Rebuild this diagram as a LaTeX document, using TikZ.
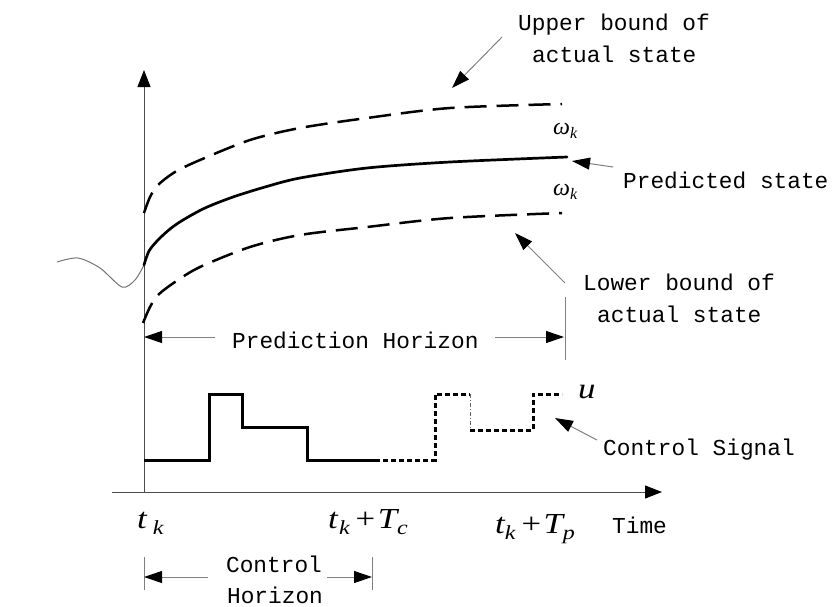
\documentclass[tikz,border=0pt]{standalone}
\usepackage{fix-cm}
\usepackage{graphicx}
\usepackage{fontspec}
\newfontfamily\monofont{Liberation Mono}
\newfontfamily\tnr{Liberation Serif}
\usetikzlibrary{arrows.meta}
\newcommand\sbs[1]{\raisebox{-6.5pt}{\fontsize{20}{22}\selectfont #1}}
\newcommand\wid[1]{\scalebox{1.2}[1]{#1}}
\tikzset{
  axisline/.style={draw=black!70, line width=1pt, -{Triangle[length=17pt,width=13pt,color=black]}},
  predcurve/.style={line width=2.7pt, line cap=round},
  boundcurve/.style={line width=2.5pt, dash pattern=on 22pt off 10pt},
  sig/.style={line width=3pt, line join=miter},
  sigdot/.style={line width=3pt, dash pattern=on 5pt off 3pt},
  pointer/.style={draw=black!50, line width=1pt, -{Triangle[length=18pt,width=12pt,color=black]}},
  tickline/.style={draw=black!50, line width=1pt},
  txt/.style={font=\monofont\fontsize{22.8}{26}\selectfont, inner sep=0pt, anchor=base west},
  mathlbl/.style={font=\tnr\itshape\fontsize{29}{32}\selectfont, inner sep=0pt, anchor=base west},
  omg/.style={font=\tnr\itshape\fontsize{24}{27}\selectfont, inner sep=0pt, anchor=base west},
}
\begin{document}
\begin{tikzpicture}[x=1pt,y=-1pt]
\useasboundingbox (0,0) rectangle (833,606);
% axes
\coordinate (o) at (144,492);
\coordinate (ytop) at (144,70);
\coordinate (xl) at (112,492);
\coordinate (xr) at (662,492);
\draw[axisline] (o) -- (ytop);
\draw[axisline] (xl) -- (xr);
% past wave
\draw[black!55, line width=1pt] plot[smooth] coordinates {(57,262) (78,258) (100,268) (122,287) (135,280) (144,265)};
% predicted state
\draw[predcurve] plot[smooth] coordinates {(144,265) (149,251) (158,240) (170,229) (183,220) (205,208) (233,197) (265,187) (300,178) (367,168) (450,162) (567,157)};
% upper bound
\draw[boundcurve] plot[smooth] coordinates {(144,213) (150,197) (158,185) (175,172) (200,160) (250,140) (300,128) (367,118) (450,108) (562,104)};
% lower bound
\draw[boundcurve] plot[smooth] coordinates {(143,323) (150,307) (158,295) (175,282) (200,267) (250,247) (300,235) (367,227) (450,218) (562,213)};
% omega labels
\node[omg] (w1) at (553,134) {ω\raisebox{-4pt}{\fontsize{16}{18}\selectfont k}};
\node[omg] (w2) at (553,195) {ω\raisebox{-4pt}{\fontsize{16}{18}\selectfont k}};
% texts
\node[txt] (up1) at (518,30) {Upper bound of};
\node[txt] (up2) at (532,62) {actual state};
\node[txt] (pred) at (623,188) {Predicted state};
\node[txt] (lo1) at (583,290) {Lower bound of};
\node[txt] (lo2) at (597,322) {actual state};
\node[txt] (ph) at (232,348) {Prediction Horizon};
\node[txt] (cs) at (603,455) {Control Signal};
\node[txt] (time) at (612,533) {Time};
\node[txt,anchor=base] (ch1) at (274,572) {Control};
\node[txt,anchor=base] (ch2) at (275,603) {Horizon};
% pointers
\coordinate (upA) at (502,37); \coordinate (upB) at (452,88);
\draw[pointer] (upA) -- (upB);
\coordinate (prA) at (613,167); \coordinate (prB) at (572,161);
\draw[pointer] (prA) -- (prB);
\coordinate (loA) at (565,283); \coordinate (loB) at (515,233);
\draw[pointer] (loA) -- (loB);
\coordinate (csA) at (597,440); \coordinate (csB) at (555,418);
\draw[pointer] (csA) -- (csB);
% prediction horizon
\coordinate (phA) at (215,337); \coordinate (phL) at (144,337);
\coordinate (phB) at (495,337); \coordinate (phR) at (564,337);
\draw[pointer] (phA) -- (phL);
\draw[pointer] (phB) -- (phR);
\coordinate (phT1) at (565,297); \coordinate (phT2) at (565,360);
\draw[tickline] (phT1) -- (phT2);
% control signal
\draw[sig] (144,460) -- (209,460) -- (209,394) -- (242,394) -- (242,427) -- (307,427) -- (307,460) -- (375,460);
\draw[sigdot] (375,460) -- (435,460) -- (435,394) -- (470,394);
\draw[black!60, line width=0.7pt, dash pattern=on 4pt off 2pt on 1pt off 2pt] (470,394) -- (470,430);
\draw[sigdot] (470,430) -- (533,430) -- (533,394) -- (562,394);
\node[mathlbl] (u) at (578,398) {\wid{u}};
% time labels
\node[mathlbl] (tk) at (137,528) {\wid{t\hspace{5pt}\sbs{k}}};
\node[mathlbl] (tc) at (328,528) {\wid{t\hspace{1pt}\sbs{k}\hspace{5pt}{\upshape +}\hspace{2pt}T\sbs{c}}};
\node[mathlbl] (tp) at (495,533) {\wid{t\sbs{k}\hspace{5pt}{\upshape +}\hspace{2pt}T\sbs{p}}};
% control horizon
\coordinate (chT1) at (144,557); \coordinate (chT2) at (144,590);
\coordinate (chT3) at (372,557); \coordinate (chT4) at (372,590);
\draw[tickline] (chT1) -- (chT2);
\draw[tickline] (chT3) -- (chT4);
\coordinate (chA) at (208,577); \coordinate (chL) at (144,577);
\coordinate (chB) at (327,577); \coordinate (chR) at (372,577);
\draw[pointer] (chA) -- (chL);
\draw[pointer] (chB) -- (chR);
\end{tikzpicture}
\end{document}
